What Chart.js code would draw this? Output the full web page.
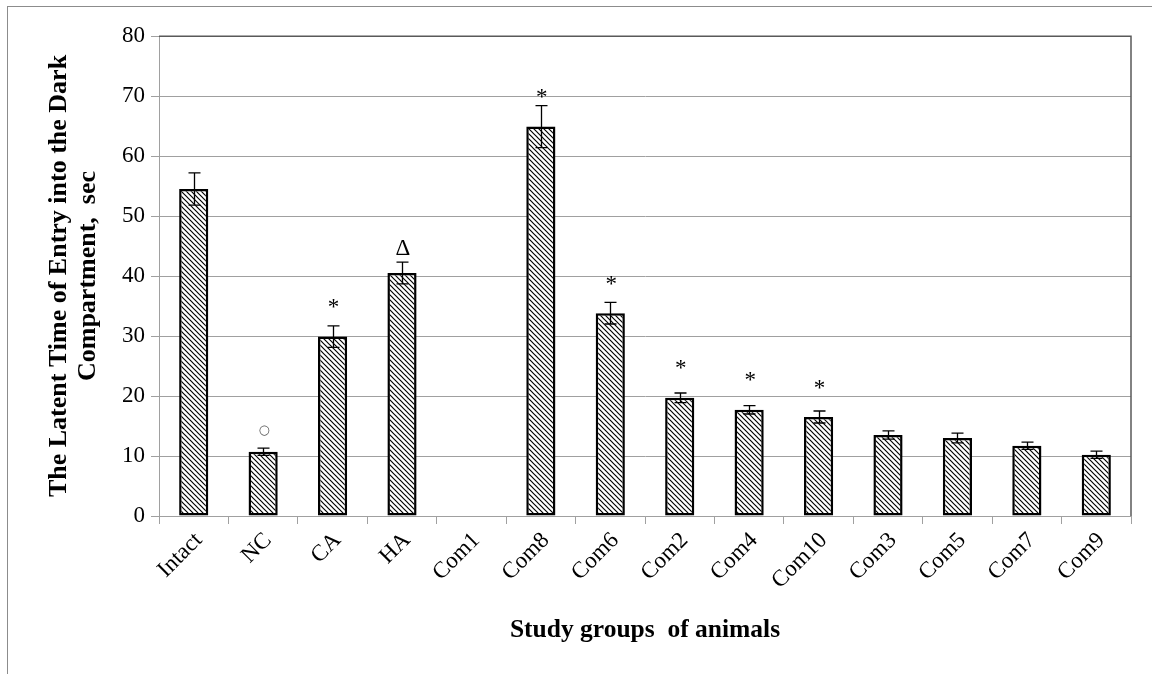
<!DOCTYPE html>
<html><head><meta charset="utf-8">
<script src="https://cdn.jsdelivr.net/npm/chart.js@4"></script>
<style>
html,body{margin:0;padding:0;background:#fff;}
#wrap{position:relative;width:1152px;height:674px;overflow:hidden;}
#frame{position:absolute;left:7px;top:6px;width:1160px;height:700px;border-top:1px solid #8c8c8c;border-left:1px solid #8c8c8c;}
canvas{position:absolute;left:0;top:0;}
</style></head><body>
<div id="wrap"><div id="frame"></div><canvas id="c" width="1152" height="674"></canvas></div>
<script>
const categories = ['Intact','NC','CA','HA','Com1','Com8','Com6','Com2','Com4','Com10','Com3','Com5','Com7','Com9'];
const latency = [54.5, 10.7, 29.9, 40.5, null, 64.9, 33.8, 19.7, 17.7, 16.5, 13.5, 13.0, 11.7, 10.2];
const errors  = [2.7, 0.6, 1.8, 1.8, null, 3.5, 1.8, 0.8, 0.7, 1.0, 0.7, 0.8, 0.6, 0.6];
const marks   = ['', '○', '*', 'Δ', '', '*', '*', '*', '*', '*', '', '', '', ''];
const yTicks  = [0, 10, 20, 30, 40, 50, 60, 70, 80];
const xTitle = 'Study groups  of animals';
const yTitle = ['The Latent Time of Entry into the Dark', 'Compartment,  sec'];

const SERIF = "'Liberation Serif', 'Times New Roman', serif";
const canvas = document.getElementById('c');
const ctx = canvas.getContext('2d');

function makePattern() {
  const n = 5;
  const c = document.createElement('canvas');
  c.width = n; c.height = n;
  const g = c.getContext('2d');
  g.fillStyle = '#fff'; g.fillRect(0, 0, n, n);
  g.strokeStyle = '#000'; g.lineWidth = 1.15;
  for (const o of [-n, 0, n]) {
    g.beginPath(); g.moveTo(o - 1, -1); g.lineTo(o + n + 1, n + 1); g.stroke();
  }
  return ctx.createPattern(c, 'repeat');
}

const markStyle = {
  '*': {font: '23px ' + SERIF, lift: 33},
  'Δ': {font: '23px ' + SERIF, lift: 26},
  '○': {font: '13px "DejaVu Sans", sans-serif', lift: 21, color: '#555'}
};

const overlay = {
  id: 'overlay',
  afterDatasetsDraw(chart) {
    const c = chart.ctx;
    const x = chart.scales.x, y = chart.scales.y;
    const area = chart.chartArea;
    c.save();
    c.strokeStyle = '#000'; c.lineWidth = 1.3;
    latency.forEach((v, i) => {
      if (v == null || errors[i] == null) return;
      const px = Math.round(x.getPixelForValue(i)) + 0.5;
      const hi = y.getPixelForValue(v + errors[i]);
      const lo = y.getPixelForValue(v - errors[i]);
      const cap = 6;
      c.beginPath();
      c.moveTo(px, hi); c.lineTo(px, lo);
      c.moveTo(px - cap, hi); c.lineTo(px + cap, hi);
      c.moveTo(px - cap, lo); c.lineTo(px + cap, lo);
      c.stroke();
    });
    marks.forEach((m, i) => {
      if (!m || latency[i] == null) return;
      const st = markStyle[m];
      c.font = st.font;
      c.fillStyle = st.color || '#000';
      c.textAlign = 'center';
      c.textBaseline = 'alphabetic';
      const mt = c.measureText(m);
      const gh = mt.actualBoundingBoxAscent + mt.actualBoundingBoxDescent;
      const center = y.getPixelForValue(latency[i]) - st.lift;
      const base = center + gh / 2 - mt.actualBoundingBoxDescent;
      c.fillText(m, x.getPixelForValue(i) + 1, base);
    });
    c.strokeStyle = '#595959'; c.lineWidth = 1.5;
    c.beginPath();
    c.moveTo(area.left, area.top + 0.25); c.lineTo(area.right, area.top + 0.25);
    c.lineTo(area.right, area.bottom);
    c.stroke();
    c.restore();
  }
};

new Chart(ctx, {
  type: 'bar',
  data: {
    labels: categories,
    datasets: [{
      data: latency,
      backgroundColor: makePattern(),
      borderColor: '#000',
      borderWidth: 2.5,
      borderSkipped: false,
      barPercentage: 0.42,
      categoryPercentage: 1
    }]
  },
  options: {
    responsive: false,
    animation: false,
    devicePixelRatio: 1,
    layout: {padding: {left: 0, top: 36, right: 21, bottom: 0}},
    plugins: {legend: {display: false}, tooltip: {enabled: false}},
    scales: {
      x: {
        grid: {offset: true, drawOnChartArea: false, drawTicks: true, tickLength: 8, color: '#a0a0a0'},
        border: {color: '#a0a0a0'},
        ticks: {font: {family: SERIF, size: 23}, color: '#000', minRotation: 45, maxRotation: 45,
                autoSkip: false, padding: 3, labelOffset: 5},
        title: {display: true, text: xTitle, color: '#000',
                font: {family: SERIF, size: 25.5, weight: 'bold'}, padding: {top: 0, bottom: 28}},
        afterFit: s => { s.height = 158; }
      },
      y: {
        min: 0, max: 80,
        afterBuildTicks: s => { s.ticks = yTicks.map(v => ({value: v})); },
        grid: {color: '#a0a0a0', tickLength: 8},
        border: {color: '#a0a0a0'},
        ticks: {font: {family: SERIF, size: 23}, color: '#000', padding: 6},
        title: {display: true, text: yTitle, color: '#000',
                font: {family: SERIF, size: 26, weight: 'bold', lineHeight: 1.12}, padding: {top: 44.4, bottom: 0}},
        afterFit: s => { s.width = 159; }
      }
    }
  },
  plugins: [overlay]
});
</script>
</body></html>
